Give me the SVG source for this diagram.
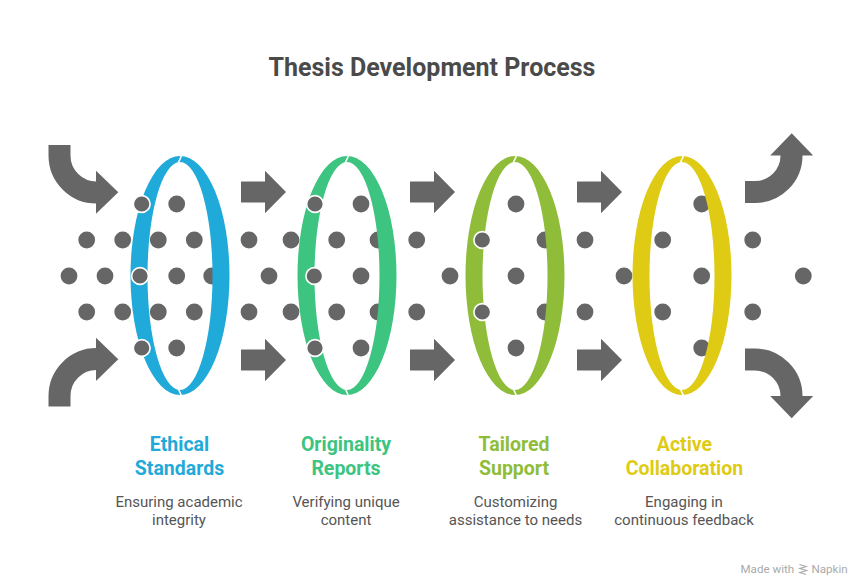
<svg xmlns="http://www.w3.org/2000/svg" width="864" height="588" viewBox="0 0 864 588">
<style>
.title{font-family:Roboto,"Liberation Sans",sans-serif;font-weight:700;font-size:25px;fill:#4a4a4a;text-anchor:middle}
.lbl{font-family:Roboto,"Liberation Sans",sans-serif;font-weight:700;font-size:19.5px;text-anchor:middle}
.desc{font-family:Roboto,"Liberation Sans",sans-serif;font-size:15px;fill:#555;text-anchor:middle}
.wm{font-family:Roboto,"Liberation Sans",sans-serif;font-size:11.6px;fill:#aaa}
.dot{fill:#666}
.odot{fill:#666;stroke:#fff;stroke-width:1.6}
.arrow{fill:#666}
.shaft{fill:none;stroke:#666;stroke-width:22}
.sep{fill:none;stroke:#fff;stroke-width:1.6}
</style>
<defs>
<path id="sarrow" d="M0,181.5 H24 V170.7 L45,192 L24,213.3 V202.5 H0 Z"/>
<g id="curveL"><path class="shaft" d="M59.5,145 V155.5 A37,37 0 0 0 97,192.5"/><path class="arrow" d="M96,170.7 L118.3,192.3 L96,213.8 Z"/></g>
<g id="curveR"><path class="shaft" d="M745,192 H755 A36.5,36.5 0 0 0 791.5,155.5 V154"/><path class="arrow" d="M770.2,155.5 L791.7,133.3 L813.2,155.5 Z"/></g>
<g id="ring">
<path fill-rule="evenodd" d="M-49.5,275.5 a49.5,119.5 0 1 0 99,0 a49.5,119.5 0 1 0 -99,0 Z M-32.5,276 a32.5,114 0 1 0 65,0 a32.5,114 0 1 0 -65,0 Z"/>
<path class="sep" d="M2,154.5 L-2,163.5 M-2,388 L2,397"/>
</g>
</defs>
<text class="title" x="432" y="75.5">Thesis Development Process</text>
<g id="connectors">
<use href="#curveL"/>
<use href="#curveL" transform="matrix(1 0 0 -1 0 551.6)"/>
<use href="#sarrow" class="arrow" x="241"/>
<use href="#sarrow" class="arrow" x="241" y="168"/>
<use href="#sarrow" class="arrow" x="410"/>
<use href="#sarrow" class="arrow" x="410" y="168"/>
<use href="#sarrow" class="arrow" x="577"/>
<use href="#sarrow" class="arrow" x="577" y="168"/>
<use href="#curveR"/>
<use href="#curveR" transform="matrix(1 0 0 -1 0 551.6)"/>
</g>
<g id="dots">
<circle class="dot" cx="176.7" cy="204" r="8.4"/>
<circle class="dot" cx="86.7" cy="240" r="8.4"/>
<circle class="dot" cx="122.7" cy="240" r="8.4"/>
<circle class="dot" cx="158.3" cy="240" r="8.4"/>
<circle class="dot" cx="194.3" cy="240" r="8.4"/>
<circle class="dot" cx="69" cy="276" r="8.4"/>
<circle class="dot" cx="105" cy="276" r="8.4"/>
<circle class="dot" cx="176.7" cy="276" r="8.4"/>
<circle class="dot" cx="211.7" cy="276" r="8.4"/>
<circle class="dot" cx="86.7" cy="312" r="8.4"/>
<circle class="dot" cx="122.7" cy="312" r="8.4"/>
<circle class="dot" cx="158.3" cy="312" r="8.4"/>
<circle class="dot" cx="194.3" cy="312" r="8.4"/>
<circle class="dot" cx="176.7" cy="348" r="8.4"/>
<circle class="dot" cx="249" cy="240" r="8.4"/>
<circle class="dot" cx="291" cy="240" r="8.4"/>
<circle class="dot" cx="336.7" cy="240" r="8.4"/>
<circle class="dot" cx="378" cy="240" r="8.4"/>
<circle class="dot" cx="416.7" cy="240" r="8.4"/>
<circle class="dot" cx="249" cy="312" r="8.4"/>
<circle class="dot" cx="291" cy="312" r="8.4"/>
<circle class="dot" cx="336.7" cy="312" r="8.4"/>
<circle class="dot" cx="378" cy="312" r="8.4"/>
<circle class="dot" cx="416.7" cy="312" r="8.4"/>
<circle class="dot" cx="269" cy="276" r="8.4"/>
<circle class="dot" cx="361" cy="276" r="8.4"/>
<circle class="dot" cx="361" cy="204" r="8.4"/>
<circle class="dot" cx="361" cy="348" r="8.4"/>
<circle class="dot" cx="516" cy="204" r="8.4"/>
<circle class="dot" cx="450" cy="276" r="8.4"/>
<circle class="dot" cx="516" cy="276" r="8.4"/>
<circle class="dot" cx="545" cy="240" r="8.4"/>
<circle class="dot" cx="585" cy="240" r="8.4"/>
<circle class="dot" cx="545" cy="312" r="8.4"/>
<circle class="dot" cx="585" cy="312" r="8.4"/>
<circle class="dot" cx="516" cy="348" r="8.4"/>
<circle class="dot" cx="624" cy="276" r="8.4"/>
<circle class="dot" cx="701.7" cy="204" r="8.4"/>
<circle class="dot" cx="662.7" cy="240" r="8.4"/>
<circle class="dot" cx="752.7" cy="240" r="8.4"/>
<circle class="dot" cx="701.7" cy="276" r="8.4"/>
<circle class="dot" cx="803.3" cy="276" r="8.4"/>
<circle class="dot" cx="662.7" cy="312" r="8.4"/>
<circle class="dot" cx="752.7" cy="312" r="8.4"/>
<circle class="dot" cx="701.7" cy="348" r="8.4"/>
</g>
<g id="node-ethical">
<use href="#ring" x="180" fill="#1FAAD9"/>
<text class="lbl" fill="#1FAAD9" x="179.5" y="451">Ethical</text>
<text class="lbl" fill="#1FAAD9" x="179.5" y="474.5">Standards</text>
<text class="desc" x="179" y="506.5">Ensuring academic</text>
<text class="desc" x="179" y="524.5">integrity</text>
</g>
<g id="node-originality">
<use href="#ring" x="347" fill="#3CC480"/>
<text class="lbl" fill="#3CC480" x="346" y="451">Originality</text>
<text class="lbl" fill="#3CC480" x="346" y="474.5">Reports</text>
<text class="desc" x="346" y="506.5">Verifying unique</text>
<text class="desc" x="346" y="524.5">content</text>
</g>
<g id="node-tailored">
<use href="#ring" x="515" fill="#8FBD39"/>
<text class="lbl" fill="#8FBD39" x="514" y="451">Tailored</text>
<text class="lbl" fill="#8FBD39" x="514" y="474.5">Support</text>
<text class="desc" x="515.5" y="506.5">Customizing</text>
<text class="desc" x="515.5" y="524.5">assistance to needs</text>
</g>
<g id="node-active">
<use href="#ring" x="682" fill="#DFCB14"/>
<text class="lbl" fill="#DFCB14" x="684.5" y="451">Active</text>
<text class="lbl" fill="#DFCB14" x="684.5" y="474.5">Collaboration</text>
<text class="desc" x="684" y="506.5">Engaging in</text>
<text class="desc" x="684" y="524.5">continuous feedback</text>
</g>
<g id="dots-front">
<circle class="odot" cx="141.7" cy="204" r="8.4"/>
<circle class="odot" cx="140" cy="276" r="8.4"/>
<circle class="odot" cx="141.7" cy="348" r="8.4"/>
<circle class="odot" cx="315" cy="204" r="8.4"/>
<circle class="odot" cx="314.3" cy="276" r="8.4"/>
<circle class="odot" cx="315" cy="348" r="8.4"/>
<circle class="odot" cx="482.3" cy="240" r="8.4"/>
<circle class="odot" cx="482.3" cy="312" r="8.4"/>
</g>
<g id="watermark">
<text class="wm" x="740.5" y="572.5">Made with</text>
<path d="M799.5,564.5 L806,566.5 L800,568.5 L806.5,570.5 L800,572.5 L806,574.5" fill="none" stroke="#aaa" stroke-width="1.3"/>
<text class="wm" x="811.5" y="572.5">Napkin</text>
</g>
</svg>
